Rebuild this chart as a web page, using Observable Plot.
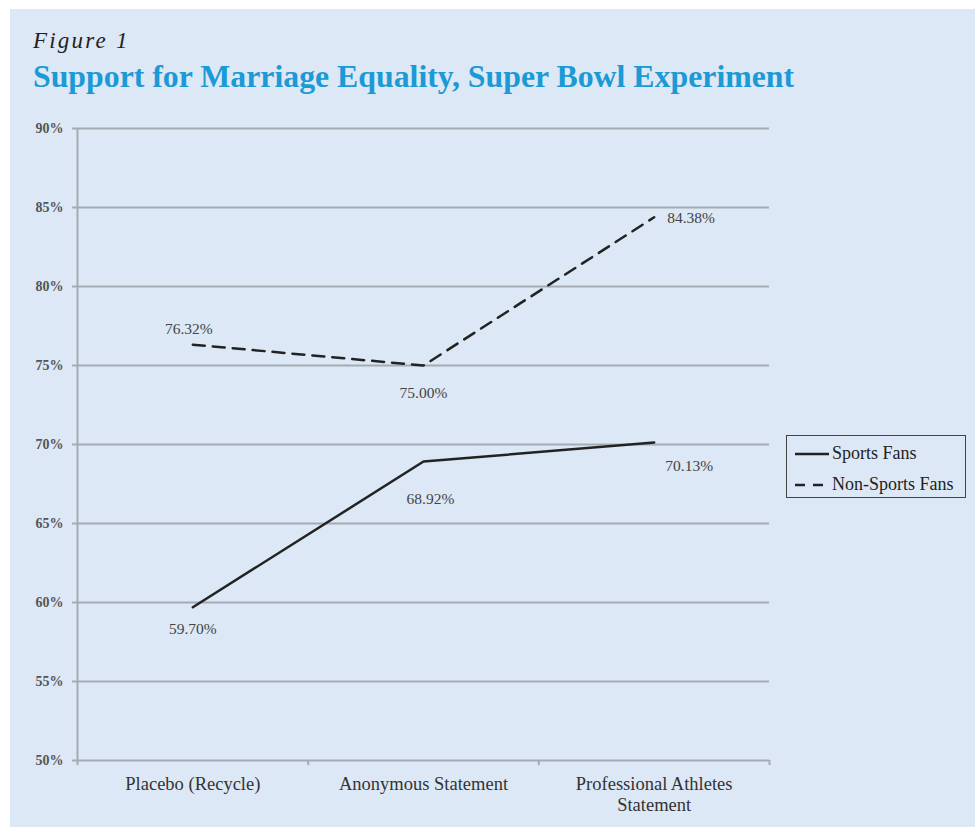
<!DOCTYPE html>
<html>
<head>
<meta charset="utf-8">
<script src="https://cdn.jsdelivr.net/npm/d3@7"></script>
<script src="https://cdn.jsdelivr.net/npm/@observablehq/plot@0.6"></script>
<style>
  html, body { margin: 0; padding: 0; background: #ffffff; }
  #page { position: relative; width: 975px; height: 827px; overflow: hidden; }
  #panel { position: absolute; left: 10px; top: 9px; right: 0; bottom: 0; background: #dce8f5; }
  #fig { position: absolute; left: 33px; top: 28px; font-family: "Liberation Serif", serif; font-style: italic; font-size: 23px; letter-spacing: 2.2px; color: #222; }
  #title { position: absolute; left: 33px; top: 59px; font-family: "Liberation Serif", serif; font-weight: bold; font-size: 31.8px; color: #1b9ad6; white-space: nowrap; }
  #chart { position: absolute; left: 0; top: 0; }
  #legend { position: absolute; left: 786px; top: 435px; width: 178px; height: 61px; border: 1.5px solid #444; box-sizing: content-box; font-family: "Liberation Serif", serif; font-size: 18px; color: #222; }
  .lrow { position: absolute; left: 8px; display: flex; align-items: center; white-space: nowrap; }
</style>
</head>
<body>
<div id="page">
  <div id="panel"></div>
  <div id="fig">Figure 1</div>
  <div id="title">Support for Marriage Equality, Super Bowl Experiment</div>
  <div id="chart"></div>
  <div id="legend"></div>
</div>
<script>
// ---- data ----
const categories = ["Placebo (Recycle)", "Anonymous Statement", "Professional Athletes\nStatement"];
const sportsFans = [59.70, 68.92, 70.13];
const nonSportsFans = [76.32, 75.00, 84.38];
const yTicks = [50, 55, 60, 65, 70, 75, 80, 85, 90];
const seriesNames = ["Sports Fans", "Non-Sports Fans"];

const rows = [];
categories.forEach((c, i) => {
  rows.push({series: seriesNames[0], i, value: sportsFans[i]});
  rows.push({series: seriesNames[1], i, value: nonSportsFans[i]});
});

// label placement (offsets in px relative to the data point)
function placement(d) {
  if (d.series === seriesNames[1]) {
    if (d.i === 0) return {dx: -4, dy: -16, textAnchor: "middle"};
    if (d.i === 1) return {dx: 0, dy: 28, textAnchor: "middle"};
    return {dx: 13, dy: 1, textAnchor: "start"};
  } else {
    if (d.i === 0) return {dx: 0, dy: 22, textAnchor: "middle"};
    if (d.i === 1) return {dx: 7, dy: 37, textAnchor: "middle"};
    return {dx: 35, dy: 24, textAnchor: "middle"};
  }
}

const grid = "#a4abb3";
const ink = "#222222";

const labelMarks = rows.map(d => {
  const p = placement(d);
  return Plot.text([d], {
    x: r => r.i + 0.5, y: "value",
    text: r => r.value.toFixed(2) + "%",
    dx: p.dx, dy: p.dy, textAnchor: p.textAnchor,
    fontSize: 15.5, fill: "#444"
  });
});

const chart = Plot.plot({
  width: 975,
  height: 827,
  marginLeft: 77,
  marginRight: 206,
  marginTop: 128,
  marginBottom: 67,
  style: {background: "transparent", fontFamily: "Liberation Serif, serif"},
  x: {domain: [0, 3], axis: null},
  y: {domain: [50, 90], axis: null},
  marks: [
    Plot.ruleY(yTicks, {stroke: grid, strokeWidth: 2}),
    Plot.ruleX([0], {stroke: grid, strokeWidth: 2}),
    Plot.axisY({ticks: yTicks, label: null, tickSize: 5, tickPadding: 9, tickFormat: d => d + "%", stroke: grid, strokeWidth: 2, fill: "#555", fontSize: 14, fontWeight: "bold"}),
    Plot.axisX({ticks: [0, 1, 2, 3], label: null, tickSize: 5, tickFormat: () => "", stroke: grid, strokeWidth: 2}),
    Plot.text(categories, {x: (d, i) => i + 0.5, frameAnchor: "bottom", dy: 14, lineAnchor: "top", fontSize: 18.5, fill: "#333", lineHeight: 1.15}),
    Plot.line(rows.filter(d => d.series === seriesNames[0]), {x: d => d.i + 0.5, y: "value", stroke: ink, strokeWidth: 2.5}),
    Plot.line(rows.filter(d => d.series === seriesNames[1]), {x: d => d.i + 0.5, y: "value", stroke: ink, strokeWidth: 2.5, strokeDasharray: "12,8"}),
    ...labelMarks
  ]
});
document.getElementById("chart").appendChild(chart);

// legend
const legend = document.getElementById("legend");
seriesNames.forEach((name, k) => {
  const row = document.createElement("div");
  row.className = "lrow";
  row.style.top = (k === 0 ? 7 : 38) + "px";
  const dash = k === 0 ? "" : ' stroke-dasharray="10,8"';
  row.innerHTML = `<svg width="36" height="10" style="margin-right:1px"><line x1="0" x2="34" y1="5" y2="5" stroke="${ink}" stroke-width="2.5"${dash}/></svg><span>${name}</span>`;
  legend.appendChild(row);
});
</script>
</body>
</html>
